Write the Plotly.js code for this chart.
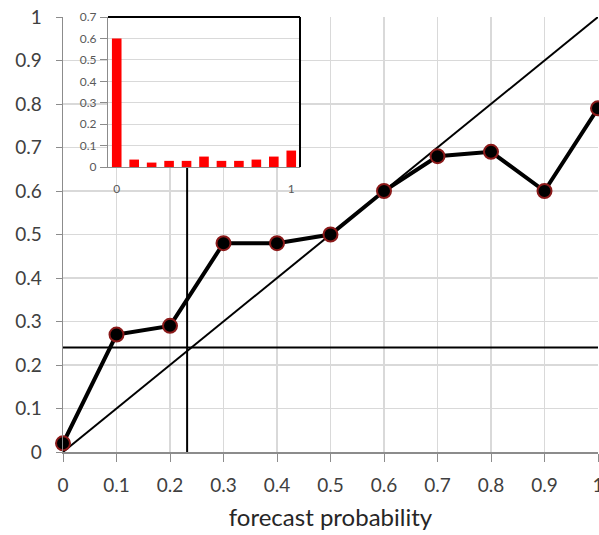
<!DOCTYPE html>
<html>
<head>
<meta charset="utf-8">
<script src="https://cdn.plot.ly/plotly-3.0.1.min.js"></script>
<style>html,body{margin:0;padding:0;background:#fff;}#chart{width:599px;height:535px;}</style>
</head>
<body>
<div id="chart"></div>
<script>
// Reliability curve
const forecastProb = [0, 0.1, 0.2, 0.3, 0.4, 0.5, 0.6, 0.7, 0.8, 0.9, 1.0];
const observedFreq = [0.02, 0.27, 0.29, 0.48, 0.48, 0.50, 0.60, 0.68, 0.69, 0.60, 0.79];
// Perfect reliability diagonal
const diagX = [0, 1];
const diagY = [0, 1];
// Climatology lines
const climX = [0, 1];
const climY = [0.24, 0.24];
const vertX = [0.232, 0.232];
const vertY = [0, 0.7];
// Inset: forecast frequency histogram
const histBins = [0, 0.1, 0.2, 0.3, 0.4, 0.5, 0.6, 0.7, 0.8, 0.9, 1.0];
const histFreq = [0.60, 0.035, 0.021, 0.029, 0.029, 0.049, 0.029, 0.029, 0.035, 0.049, 0.077];
const mainTicks = [0, 0.1, 0.2, 0.3, 0.4, 0.5, 0.6, 0.7, 0.8, 0.9, 1];
const insetXTicks = [0, 1];
const insetYTicks = [0, 0.1, 0.2, 0.3, 0.4, 0.5, 0.6, 0.7];

const font = "Lato, 'Open Sans', sans-serif";

const traces = [
  {x: diagX, y: diagY, type: 'scatter', mode: 'lines', line: {color: '#000', width: 2}, hoverinfo: 'skip', cliponaxis: false},
  {x: climX, y: climY, type: 'scatter', mode: 'lines', line: {color: '#000', width: 2}, hoverinfo: 'skip', cliponaxis: false},
  {x: vertX, y: vertY, type: 'scatter', mode: 'lines', line: {color: '#000', width: 2}, hoverinfo: 'skip', cliponaxis: false},
  {x: forecastProb, y: observedFreq, type: 'scatter', mode: 'lines+markers', cliponaxis: false,
   line: {color: '#000', width: 4},
   marker: {color: '#000', size: 14, line: {color: '#8b1a1a', width: 2}}},
  {x: histBins, y: histFreq, type: 'bar', xaxis: 'x2', yaxis: 'y2', width: 0.055,
   marker: {color: '#ff0000', line: {width: 0}}}
];

const layout = {
  width: 599, height: 535,
  margin: {l: 63, r: 1, t: 17, b: 83},
  paper_bgcolor: '#fff', plot_bgcolor: '#fff',
  showlegend: false,
  font: {family: font, color: '#404040'},
  xaxis: {
    range: [0, 1], tickvals: mainTicks, showgrid: true, gridcolor: '#d9d9d9', gridwidth: 1.5,
    showline: true, linecolor: '#8c8c8c', linewidth: 1.5, ticks: 'outside', ticklen: 8, tickcolor: '#8c8c8c',
    tickfont: {size: 19, color: '#404040'}, zeroline: false, ticklabelstandoff: 8, ticklabeloverflow: 'allow',
    title: {text: 'forecast probability', font: {size: 24, color: '#262626'}, standoff: 14}
  },
  yaxis: {
    range: [0, 1], tickvals: mainTicks, showgrid: true, gridcolor: '#d9d9d9', gridwidth: 1.5,
    showline: true, linecolor: '#8c8c8c', linewidth: 1.5, ticks: 'outside', ticklen: 6, tickcolor: '#8c8c8c',
    tickfont: {size: 19, color: '#404040'}, zeroline: false, ticklabelstandoff: 10
  },
  xaxis2: {
    domain: [0.0841, 0.443], anchor: 'y2', range: [-0.05, 1.05], tickvals: insetXTicks,
    showgrid: false, showline: true, linecolor: '#8c8c8c', linewidth: 1, ticks: '', zeroline: false,
    tickfont: {size: 12, color: '#595959'}, ticklabelstandoff: 11
  },
  yaxis2: {
    domain: [0.655, 1.0], anchor: 'x2', range: [0, 0.7], tickvals: insetYTicks,
    showgrid: true, gridcolor: '#d9d9d9', gridwidth: 1, showline: true, linecolor: '#8c8c8c', linewidth: 1,
    ticks: 'outside', ticklen: 7, tickcolor: '#8c8c8c', zeroline: false,
    tickfont: {size: 12, color: '#595959'}, ticklabelstandoff: 1
  },
  shapes: [
    {type: 'line', xref: 'x2 domain', yref: 'y2 domain', x0: 0, x1: 1, y0: 1, y1: 1, line: {color: '#000', width: 2}},
    {type: 'line', xref: 'x2 domain', yref: 'y2 domain', x0: 1, x1: 1, y0: 0, y1: 1, line: {color: '#000', width: 2}}
  ]
};

Plotly.newPlot('chart', traces, layout, {displayModeBar: false, staticPlot: true});
</script>
</body>
</html>
